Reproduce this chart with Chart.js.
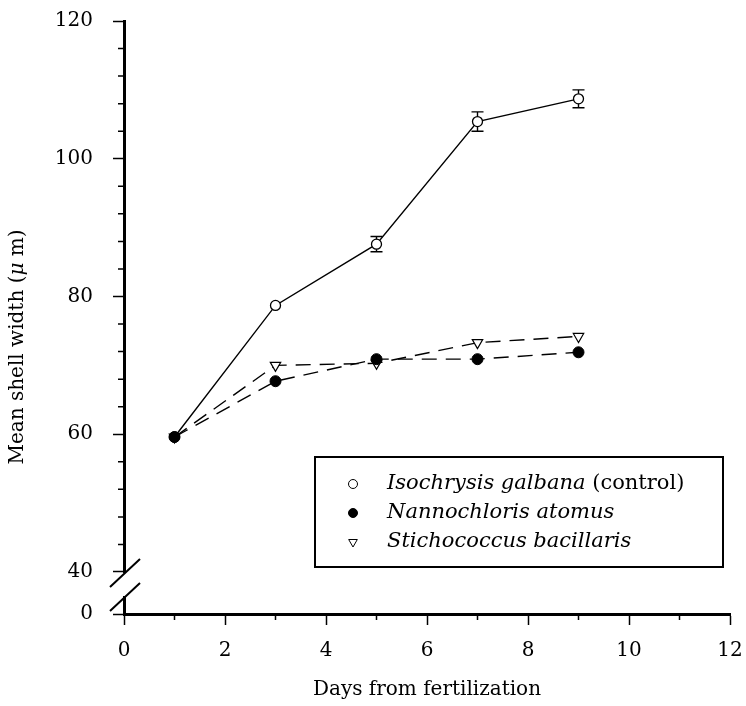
<!DOCTYPE html>
<html>
<head>
<meta charset="utf-8">
<script src="https://cdn.jsdelivr.net/npm/chart.js@4.4.0/dist/chart.umd.min.js"></script>
<style>
  html, body { margin: 0; padding: 0; background: #fff; }
</style>
</head>
<body>
<canvas id="chart" width="746" height="706"></canvas>
<script>
// days after fertilization
const days = [1, 3, 5, 7, 9];
// mean shell width (um)
const isochrysis = [59.6, 78.7, 87.6, 105.4, 108.7];
const isochrysisErr = [0, 0, 1.1, 1.4, 1.3];
const nannochloris = [59.6, 67.7, 70.9, 70.9, 71.9];
const stichococcus = [59.6, 70.0, 70.3, 73.3, 74.2];

const seriesNames = ["Isochrysis galbana", "Nannochloris atomus", "Stichococcus bacillaris"];
const seriesNotes = [" (control)", "", ""];

const xTicks = [0, 2, 4, 6, 8, 10, 12];
const xMinorTicks = [1, 3, 5, 7, 9, 11];
const yTicks = [0, 40, 60, 80, 100, 120];
const yMinorTicks = [44, 48, 52, 56, 64, 68, 72, 76, 84, 88, 92, 96, 104, 108, 112, 116];
const ZERO_AT = 33.9; // axis is broken between 0 and 40

const SERIF = "'DejaVu Serif', 'Liberation Serif', serif";

const errorBars = {
  id: "errorBars",
  beforeDatasetsDraw(chart) {
    const { ctx, scales: { x, y } } = chart;
    ctx.save();
    ctx.strokeStyle = "#000";
    ctx.lineWidth = 1.4;
    days.forEach((d, i) => {
      const e = isochrysisErr[i];
      if (!e) return;
      const px = x.getPixelForValue(d);
      const top = y.getPixelForValue(isochrysis[i] + e);
      const bot = y.getPixelForValue(isochrysis[i] - e);
      ctx.beginPath();
      ctx.moveTo(px, top); ctx.lineTo(px, bot);
      ctx.moveTo(px - 6, top); ctx.lineTo(px + 6, top);
      ctx.moveTo(px - 6, bot); ctx.lineTo(px + 6, bot);
      ctx.stroke();
    });
    ctx.restore();
  }
};

const axisExtras = {
  id: "axisExtras",
  afterDraw(chart) {
    const { ctx, chartArea: area, scales: { x, y } } = chart;
    ctx.save();
    ctx.strokeStyle = "#000";
    ctx.lineWidth = 1.5;

    // minor ticks
    ctx.beginPath();
    xMinorTicks.forEach(v => {
      const px = x.getPixelForValue(v);
      ctx.moveTo(px, area.bottom); ctx.lineTo(px, area.bottom + 6);
    });
    yMinorTicks.forEach(v => {
      const py = y.getPixelForValue(v);
      ctx.moveTo(area.left - 6, py); ctx.lineTo(area.left, py);
    });
    ctx.stroke();

    // axis break
    const y40 = y.getPixelForValue(40);
    ctx.fillStyle = "#fff";
    ctx.fillRect(area.left - 3, y40 + 1, 6, 23);
    ctx.lineWidth = 2;
    ctx.beginPath();
    ctx.moveTo(area.left - 14, y40 + 15); ctx.lineTo(area.left + 16, y40 - 13);
    ctx.moveTo(area.left - 14, y40 + 39); ctx.lineTo(area.left + 16, y40 + 11);
    ctx.stroke();

    // y axis title
    ctx.fillStyle = "#000";
    ctx.textBaseline = "middle";
    ctx.translate(18, 347);
    ctx.rotate(-Math.PI / 2);
    const parts = [["Mean shell width (", "normal"], ["\u03bc", "italic"], [" m)", "normal"]];
    let total = 0;
    parts.forEach(([t, s]) => { ctx.font = s + " 20px " + SERIF; total += ctx.measureText(t).width; });
    let tx = -total / 2;
    parts.forEach(([t, s]) => {
      ctx.font = s + " 20px " + SERIF;
      ctx.fillText(t, tx, 0);
      tx += ctx.measureText(t).width;
    });
    ctx.restore();

    // legend
    ctx.save();
    ctx.strokeStyle = "#000";
    ctx.lineWidth = 2;
    ctx.strokeRect(315, 457, 408, 110);
    ctx.textBaseline = "middle";
    const rows = [484, 513, 542];
    [0, 1, 2].forEach((k, i) => {
      const ds = chart.data.datasets[k];
      ctx.fillStyle = ds.pointBackgroundColor;
      ctx.strokeStyle = "#000";
      ctx.lineWidth = 1;
      Chart.helpers.drawPoint(ctx, {
        pointStyle: ds.pointStyle, rotation: ds.pointRotation || 0,
        radius: ds.pointStyle === "triangle" ? 5 : 4.5, borderWidth: 1
      }, 353, rows[i]);
      ctx.fillStyle = "#000";
      ctx.font = "italic 21px " + SERIF;
      ctx.fillText(seriesNames[k], 387, rows[i]);
      const w = ctx.measureText(seriesNames[k]).width;
      if (seriesNotes[k]) {
        ctx.font = "normal 21px " + SERIF;
        ctx.fillText(seriesNotes[k], 387 + w, rows[i]);
      }
    });
    ctx.restore();
  }
};

const pts = (ys) => days.map((d, i) => ({ x: d, y: ys[i] }));

new Chart(document.getElementById("chart"), {
  type: "line",
  data: {
    datasets: [
      {
        label: seriesNames[0],
        data: pts(isochrysis),
        borderColor: "#000",
        borderWidth: 1.4,
        pointStyle: "circle",
        pointRadius: 5,
        pointBackgroundColor: "#fff",
        pointBorderColor: "#000",
        pointBorderWidth: 1.3,
        order: 1
      },
      {
        label: seriesNames[1],
        data: pts(nannochloris),
        borderColor: "#000",
        borderWidth: 1.4,
        borderDash: [15, 9],
        pointStyle: "circle",
        pointRadius: 5.5,
        pointBackgroundColor: "#000",
        pointBorderColor: "#000",
        pointBorderWidth: 1,
        order: 0
      },
      {
        label: seriesNames[2],
        data: pts(stichococcus),
        borderColor: "#000",
        borderWidth: 1.4,
        borderDash: [15, 9],
        pointStyle: "triangle",
        pointRotation: 180,
        pointRadius: 6,
        pointBackgroundColor: "#fff",
        pointBorderColor: "#000",
        pointBorderWidth: 1.2,
        order: 2
      }
    ]
  },
  options: {
    responsive: false,
    animation: false,
    layout: { padding: { top: 21, right: 16, left: 0, bottom: 0 } },
    plugins: {
      legend: { display: false },
      tooltip: { enabled: false }
    },
    elements: { line: { tension: 0 } },
    scales: {
      x: {
        type: "linear",
        min: 0,
        max: 12,
        afterBuildTicks: s => { s.ticks = xTicks.map(v => ({ value: v })); },
        afterFit: s => { s.height = 92; s.paddingLeft = 0; s.paddingRight = 0; },
        grid: { drawOnChartArea: false, drawTicks: true, tickLength: 11, tickWidth: 1.5, tickColor: "#000" },
        border: { display: true, color: "#000", width: 3 },
        ticks: { color: "#000", font: { family: SERIF, size: 20 }, padding: 14, maxRotation: 0 },
        title: {
          display: true,
          text: "Days from fertilization",
          color: "#000",
          font: { family: SERIF, size: 20 },
          padding: { top: 0, bottom: 4 }
        }
      },
      y: {
        type: "linear",
        min: ZERO_AT,
        max: 120,
        afterBuildTicks: s => { s.ticks = yTicks.map(v => ({ value: v === 0 ? ZERO_AT : v })); },
        afterFit: s => { s.width = 124; s.paddingTop = 0; s.paddingBottom = 0; },
        grid: { drawOnChartArea: false, drawTicks: true, tickLength: 11, tickWidth: 1.5, tickColor: "#000" },
        border: { display: true, color: "#000", width: 3 },
        ticks: {
          color: "#000",
          font: { family: SERIF, size: 20 },
          padding: 20,
          callback: (v, i) => String(yTicks[i])
        }
      }
    }
  },
  plugins: [errorBars, axisExtras]
});
</script>
</body>
</html>
